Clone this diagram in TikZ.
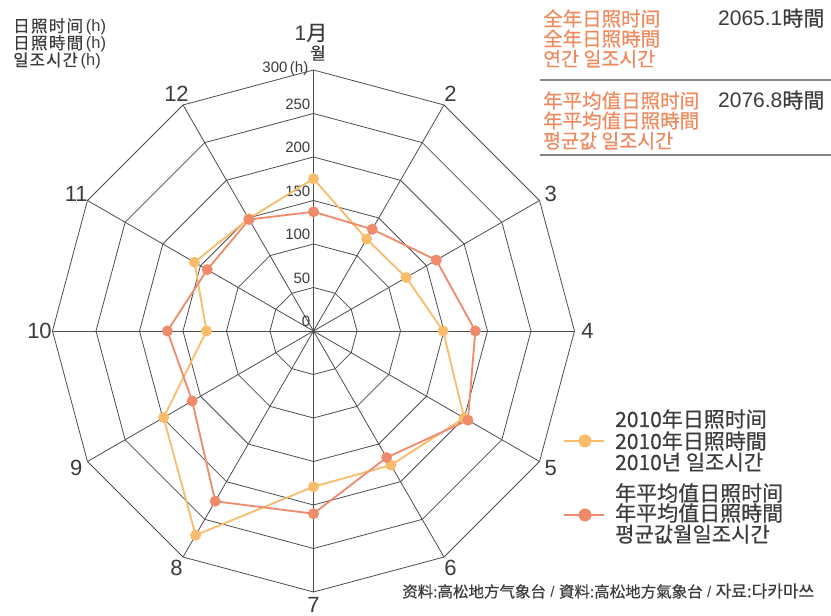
\documentclass[tikz,border=0pt]{standalone}
\usepackage{fontspec}
\setmainfont{Liberation Sans}
\newfontfamily\cjksc{Noto Sans CJK SC}[FakeBold=0.5]
\newfontfamily\cjkjp{Noto Sans CJK JP}[FakeBold=0.5]
\newfontfamily\cjkkr{Noto Sans CJK KR}[FakeBold=0.5]
\usepackage{xcolor}
\usepackage{tikz}
\usetikzlibrary{calc, positioning}

\definecolor{gridgray}{HTML}{4D4D4D}
\definecolor{txtgray}{HTML}{3C3C3C}
\definecolor{sun}{HTML}{F8BC6A}
\definecolor{avgsalmon}{HTML}{EF8A6A}
\definecolor{headorange}{HTML}{F08A5E}
\definecolor{rulegray}{HTML}{858585}

\newcommand{\fs}[1]{\fontsize{#1}{#1}\selectfont}

\begin{document}
\begin{tikzpicture}[x=1pt, y=1pt, >=latex]
	\tikzstyle{grid} = [draw=gridgray, line width=0.8pt]
	\tikzstyle{month} = [text=txtgray, inner sep=0pt, font=\fs{22}]
	\tikzstyle{tick} = [text=txtgray, inner sep=0pt, anchor=base east, font=\fs{15}]
	\tikzstyle{unit} = [text=txtgray, inner sep=0pt, anchor=base west, font=\fs{16.5}]
	\tikzstyle{head} = [text=headorange, inner sep=0pt, anchor=base west, font=\fs{19.5}]
	\tikzstyle{total} = [text=txtgray, inner sep=0pt, anchor=base west, font=\fs{21}]
	\tikzstyle{legend} = [text=txtgray, inner sep=0pt, anchor=base west, font=\fs{21}]
	\tikzstyle{dotsun} = [circle, fill=sun, inner sep=0pt, minimum size=11pt]
	\tikzstyle{dotavg} = [circle, fill=avgsalmon, inner sep=0pt, minimum size=11pt]
	\tikzstyle{linesun} = [draw=sun, line width=1.8pt, line join=round]
	\tikzstyle{lineavg} = [draw=avgsalmon, line width=1.8pt, line join=round]
	\tikzstyle{rule} = [draw=rulegray, line width=2pt]

	\useasboundingbox (0,0) rectangle (831,616);
	\fill[white] (0,0) rectangle (831,616);

	\begin{scope}[shift={(313.5,285)}]
		\coordinate (c) at (0,0);
		% rings, every 50 h
		\foreach \r in {50,100,...,300}
			\draw[grid] (90:{\r*0.87}) \foreach \k in {1,...,11} { -- ({90-30*\k}:{\r*0.87}) } -- cycle;
		% spokes
		\foreach \k in {1,...,12} {
			\coordinate (v\k) at ({120-30*\k}:261);
			\draw[grid] (c) -- (v\k);
		}
		% months
		\foreach \k in {2,...,12}
			\node[month] at ({120-30*\k}:274) (m\k) {\k};
		\node[month, font=\fs{21}] at (-2.5,298) (m1) {1{\cjkjp 月}};
		\node[month, font=\cjkkr\fs{17}] at (4.5,278) (m1kr) {월};
		% scale
		\foreach \v in {0,50,...,250}
			\node[tick] at (-3,{\v*0.87+4}) (t\v) {\v};
		\node[tick, anchor=east] at (-5,262) (t300) {300\,(h)};

		% data
		\foreach \v [count=\k] in {175,122,123,149,200,178,179,271,199,123,158,149}
			\coordinate (s\k) at ({120-30*\k}:{\v*0.87});
		\foreach \v [count=\k] in {137,135,163,186,205,168,210,226,161,168,141,148}
			\coordinate (a\k) at ({120-30*\k}:{\v*0.87});

		\draw[linesun] (s1) \foreach \k in {2,...,12} { -- (s\k) } -- cycle;
		\draw[lineavg] (a1) \foreach \k in {2,...,12} { -- (a\k) } -- cycle;
		\foreach \k in {1,...,12}
			\node[dotsun] at (s\k) (ps\k) {};
		\foreach \k in {1,...,12}
			\node[dotavg] at (a\k) (pa\k) {};
	\end{scope}

	% unit, top left
	\node[unit] at (13,584) (u1) {{\cjksc\addfontfeatures{LetterSpace=8} 日照时间}\,(h)};
	\node[unit] at (13,567) (u2) {{\cjkjp\addfontfeatures{LetterSpace=8} 日照時間}\,(h)};
	\node[unit] at (13,550) (u3) {{\cjkkr\addfontfeatures{LetterSpace=8} 일조시간}\,(h)};

	% totals, top right
	\node[head, font=\cjksc\fs{19.5}] at (543,590) (h1) {全年日照时间};
	\node[head, font=\cjkjp\fs{19.5}] at (543,570) (h2) {全年日照時間};
	\node[head, font=\cjkkr\fs{19.5}] at (543,550) (h3) {연간 일조시간};
	\node[total] at (718,590) (tot1) {2065.1{\cjkjp 時間}};
	\coordinate (r1a) at (540,536);
	\coordinate (r1b) at (831,536);
	\draw[rule] (r1a) -- (r1b);
	\node[head, font=\cjksc\fs{19.5}] at (543,508) (h4) {年平均值日照时间};
	\node[head, font=\cjkjp\fs{19.5}] at (543,488) (h5) {年平均值日照時間};
	\node[head, font=\cjkkr\fs{19.5}] at (543,468) (h6) {평균값 일조시간};
	\node[total] at (718,508) (tot2) {2076.8{\cjkjp 時間}};
	\coordinate (r2a) at (540,461);
	\coordinate (r2b) at (831,461);
	\draw[rule] (r2a) -- (r2b);

	% legend
	\coordinate (ls1) at (564,175);
	\coordinate (ls2) at (604,175);
	\draw[linesun] (ls1) -- (ls2);
	\node[dotsun, minimum size=13pt] at (585,175) (lds) {};
	\node[legend, font=\cjksc\fs{21}] at (615,189) (l1) {2010年日照时间};
	\node[legend, font=\cjkjp\fs{21}] at (615,167) (l2) {2010年日照時間};
	\node[legend, font=\cjkkr\fs{21}] at (615,146) (l3) {2010년 일조시간};

	\coordinate (la1) at (564,101);
	\coordinate (la2) at (604,101);
	\draw[lineavg] (la1) -- (la2);
	\node[dotavg, minimum size=13pt] at (585,101) (lda) {};
	\node[legend, font=\cjksc\fs{21}] at (615,115) (l4) {年平均值日照时间};
	\node[legend, font=\cjkjp\fs{21}] at (615,95) (l5) {年平均值日照時間};
	\node[legend, font=\cjkkr\fs{21}] at (615,74) (l6) {평균값월일조시간};

	% source
	\node[text=txtgray, inner sep=0pt, anchor=west, font=\fs{15.5}] at (402,25) (src)
		{{\cjksc 资料:高松地方气象台} / {\cjkjp 資料:高松地方氣象台} / {\cjkkr\fs{17}자료:다카마쓰}};
\end{tikzpicture}
\end{document}
